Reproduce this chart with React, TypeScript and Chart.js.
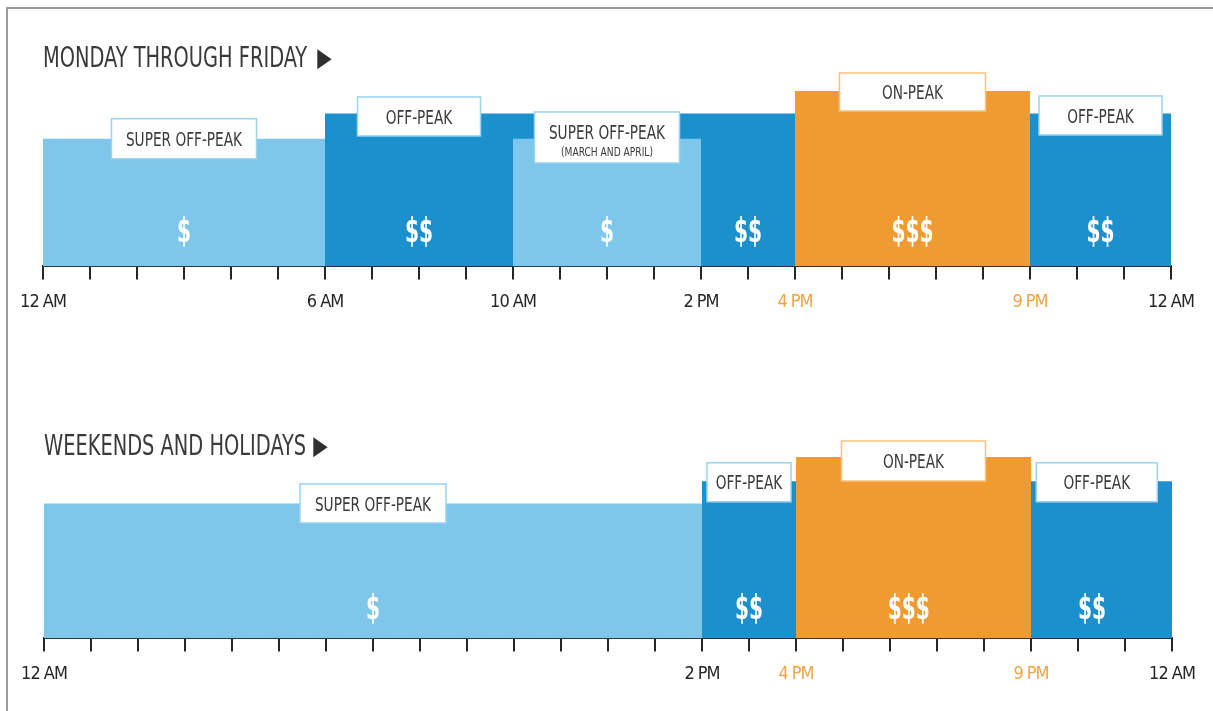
import React, { useEffect, useRef } from 'react';
import { Chart, registerables } from 'chart.js';

Chart.register(...registerables);

// ---------------- data ----------------
const WEEKDAY_TITLE = 'MONDAY THROUGH FRIDAY';
const WEEKDAY_SEG_START = [0, 6, 10, 16, 21];
const WEEKDAY_SEG_END = [6, 16, 14, 21, 24];
const WEEKDAY_SEG_TIER = ['super', 'off', 'super', 'on', 'off'];
const WEEKDAY_SEG_HEIGHT = [0.728, 0.872, 0.728, 1.0, 0.872];
const WEEKDAY_LABEL_TEXT = ['SUPER OFF-PEAK', 'OFF-PEAK', 'SUPER OFF-PEAK', 'ON-PEAK', 'OFF-PEAK'];
const WEEKDAY_LABEL_NOTE = ['', '', '(MARCH AND APRIL)', '', ''];
const WEEKDAY_LABEL_HOUR = [3, 8, 12, 18.5, 22.5];
const WEEKDAY_LABEL_TIER = ['super', 'off', 'super', 'on', 'off'];
const WEEKDAY_LABEL_LEVEL = [0.728, 0.872, 0.872, 1.0, 0.872];
const WEEKDAY_RATE_TEXT = ['$', '$$', '$', '$$', '$$$', '$$'];
const WEEKDAY_RATE_HOUR = [3, 8, 12, 15, 18.5, 22.5];
const WEEKDAY_TICK_HOURS = [0, 6, 10, 14, 16, 21, 24];
const WEEKDAY_TICK_LABELS = ['12 AM', '6 AM', '10 AM', '2 PM', '4 PM', '9 PM', '12 AM'];

const WEEKEND_TITLE = 'WEEKENDS AND HOLIDAYS';
const WEEKEND_SEG_START = [0, 14, 16, 21];
const WEEKEND_SEG_END = [14, 16, 21, 24];
const WEEKEND_SEG_TIER = ['super', 'off', 'on', 'off'];
const WEEKEND_SEG_HEIGHT = [0.744, 0.866, 1.0, 0.866];
const WEEKEND_LABEL_TEXT = ['SUPER OFF-PEAK', 'OFF-PEAK', 'ON-PEAK', 'OFF-PEAK'];
const WEEKEND_LABEL_NOTE = ['', '', '', ''];
const WEEKEND_LABEL_HOUR = [7, 15, 18.5, 22.4];
const WEEKEND_LABEL_TIER = ['super', 'off', 'on', 'off'];
const WEEKEND_LABEL_LEVEL = [0.744, 0.866, 1.0, 0.866];
const WEEKEND_RATE_TEXT = ['$', '$$', '$$$', '$$'];
const WEEKEND_RATE_HOUR = [7, 15, 18.4, 22.3];
const WEEKEND_TICK_HOURS = [0, 14, 16, 21, 24];
const WEEKEND_TICK_LABELS = ['12 AM', '2 PM', '4 PM', '9 PM', '12 AM'];

const PEAK_TICK_HOURS = [16, 21];
const TITLE_ARROW = '\u25B6';

// ---------------- styles ----------------
const FAMILY = '"DejaVu Sans Condensed", "Liberation Sans Narrow", "Liberation Sans", "DejaVu Sans", sans-serif';
const COLORS: Record<string, string> = { super: '#7EC7EA', off: '#1B90CD', on: '#EF9B31' };
const BOX_BORDER: Record<string, string> = { super: '#9AD4F1', off: '#9AD4F1', on: '#F7C27E' };
const TEXT_DARK = '#3a3a3a';
const AXIS_DARK = '#262626';
const TICK_ORANGE = '#F2A444';

type BoxStyle = { w: number; h: number; dy: number };
const WEEKDAY_BOX_STYLE: BoxStyle[] = [
  { w: 145, h: 40, dy: 0 },
  { w: 123, h: 39, dy: 3 },
  { w: 145, h: 51, dy: 24 },
  { w: 146, h: 38, dy: 1 },
  { w: 123, h: 39, dy: 2 },
];
const WEEKEND_BOX_STYLE: BoxStyle[] = [
  { w: 146, h: 39, dy: 0 },
  { w: 84, h: 39, dy: 1 },
  { w: 144, h: 40, dy: 4 },
  { w: 121, h: 39, dy: 1 },
];

type PanelCfg = {
  title: string;
  titleCapCenter: number;
  arrowGap: number;
  starts: number[];
  ends: number[];
  tiers: string[];
  heights: number[];
  labelText: string[];
  labelNote: string[];
  labelHour: number[];
  labelTier: string[];
  labelLevel: number[];
  boxStyle: BoxStyle[];
  rateText: string[];
  rateHour: number[];
  rateLevel: number;
  tickHours: number[];
  tickLabels: string[];
  padding: { left: number; right: number; top: number; bottom: number };
  canvasTop: number;
  canvasHeight: number;
};

function drawText(
  ctx: CanvasRenderingContext2D,
  text: string,
  x: number,
  capCenter: number,
  size: number,
  weight: string,
  color: string,
  align: CanvasTextAlign,
  sx: number
): number {
  ctx.save();
  (ctx as any).letterSpacing = '0px';
  ctx.font = `${weight} ${size}px ${FAMILY}`;
  ctx.fillStyle = color;
  ctx.textAlign = align;
  ctx.textBaseline = 'alphabetic';
  const w = ctx.measureText(text).width * sx;
  ctx.translate(x, capCenter + (size * 0.729) / 2);
  ctx.scale(sx, 1);
  ctx.fillText(text, 0, 0);
  ctx.restore();
  return w;
}

function makePlugin(cfg: PanelCfg) {
  return {
    id: 'touOverlay',
    beforeDraw(chart: any) {
      (chart.ctx as any).letterSpacing = '-1px';
    },
    afterDatasetsDraw(chart: any) {
      const ctx: CanvasRenderingContext2D = chart.ctx;
      const area = chart.chartArea;
      const xs = chart.scales.x;
      const ys = chart.scales.y;
      // title + arrow
      const tw = drawText(ctx, cfg.title, area.left, cfg.titleCapCenter, 28, 'normal', TEXT_DARK, 'left', 0.77);
      drawText(ctx, TITLE_ARROW, area.left + tw + cfg.arrowGap, cfg.titleCapCenter, 26, 'normal', '#2e2e2e', 'left', 0.8);
      // rate symbols
      cfg.rateText.forEach((t, i) => {
        drawText(ctx, t, xs.getPixelForValue(cfg.rateHour[i]), ys.getPixelForValue(cfg.rateLevel), 33, 'bold', '#ffffff', 'center', 0.68);
      });
      // label boxes
      cfg.labelText.forEach((t, i) => {
        const st = cfg.boxStyle[i];
        const cx = xs.getPixelForValue(cfg.labelHour[i]);
        const cy = ys.getPixelForValue(cfg.labelLevel[i]) + st.dy;
        const x0 = cx - st.w / 2;
        const y0 = cy - st.h / 2;
        ctx.save();
        ctx.fillStyle = '#ffffff';
        ctx.fillRect(x0, y0, st.w, st.h);
        ctx.strokeStyle = BOX_BORDER[cfg.labelTier[i]];
        ctx.lineWidth = 1.5;
        ctx.strokeRect(x0, y0, st.w, st.h);
        ctx.restore();
        const note = cfg.labelNote[i];
        if (note) {
          drawText(ctx, t, cx, cy - 5.5, 19.5, 'normal', TEXT_DARK, 'center', 0.78);
          drawText(ctx, note, cx, cy + 14, 13, 'normal', TEXT_DARK, 'center', 0.78);
        } else {
          drawText(ctx, t, cx, cy, 19.5, 'normal', TEXT_DARK, 'center', 0.78);
        }
      });
    },
  };
}

function Panel({ cfg }: { cfg: PanelCfg }) {
  const ref = useRef<HTMLCanvasElement | null>(null);
  useEffect(() => {
    if (!ref.current) return;
    const datasets = cfg.starts.map((s, i) => ({
      label: cfg.tiers[i],
      data: [
        { x: s, y: cfg.heights[i] },
        { x: cfg.ends[i], y: cfg.heights[i] },
      ],
      fill: 'origin',
      backgroundColor: COLORS[cfg.tiers[i]],
      borderColor: 'rgba(0,0,0,0)',
      borderWidth: 0,
      pointRadius: 0,
      pointHoverRadius: 0,
      tension: 0,
      order: -i,
    }));
    const chart = new Chart(ref.current, {
      type: 'line',
      data: { datasets } as any,
      options: {
        responsive: false,
        animation: false,
        events: [],
        layout: { padding: cfg.padding },
        plugins: {
          legend: { display: false },
          tooltip: { enabled: false },
          title: { display: false },
        },
        scales: {
          x: {
            type: 'linear',
            min: 0,
            max: 24,
            ticks: {
              stepSize: 1,
              autoSkip: false,
              maxTicksLimit: 30,
              maxRotation: 0,
              minRotation: 0,
              padding: 12,
              font: { family: FAMILY, size: 18 },
              color: (c: any) => (PEAK_TICK_HOURS.includes(c.tick?.value) ? TICK_ORANGE : AXIS_DARK),
              callback: (v: any) => {
                const idx = cfg.tickHours.indexOf(Number(v));
                return idx >= 0 ? cfg.tickLabels[idx] : '';
              },
            },
            grid: {
              drawOnChartArea: false,
              drawTicks: true,
              tickLength: 13,
              color: AXIS_DARK,
              lineWidth: 2,
            },
            border: { display: true, color: AXIS_DARK, width: 2 },
          },
          y: { display: false, min: 0, max: 1 },
        },
      } as any,
      plugins: [makePlugin(cfg)],
    });
    return () => chart.destroy();
  }, [cfg]);
  return (
    <canvas
      ref={ref}
      width={1213}
      height={cfg.canvasHeight}
      style={{ position: 'absolute', left: 0, top: cfg.canvasTop, width: 1213, height: cfg.canvasHeight, display: 'block' }}
    />
  );
}

const WEEKDAY_CFG: PanelCfg = {
  title: WEEKDAY_TITLE,
  titleCapCenter: 56.7,
  arrowGap: 10,
  starts: WEEKDAY_SEG_START,
  ends: WEEKDAY_SEG_END,
  tiers: WEEKDAY_SEG_TIER,
  heights: WEEKDAY_SEG_HEIGHT,
  labelText: WEEKDAY_LABEL_TEXT,
  labelNote: WEEKDAY_LABEL_NOTE,
  labelHour: WEEKDAY_LABEL_HOUR,
  labelTier: WEEKDAY_LABEL_TIER,
  labelLevel: WEEKDAY_LABEL_LEVEL,
  boxStyle: WEEKDAY_BOX_STYLE,
  rateText: WEEKDAY_RATE_TEXT,
  rateHour: WEEKDAY_RATE_HOUR,
  rateLevel: 0.209,
  tickHours: WEEKDAY_TICK_HOURS,
  tickLabels: WEEKDAY_TICK_LABELS,
  padding: { left: 43, right: 42, top: 91, bottom: 8 },
  canvasTop: 0,
  canvasHeight: 333,
};

const WEEKEND_CFG: PanelCfg = {
  title: WEEKEND_TITLE,
  titleCapCenter: 65,
  arrowGap: 7,
  starts: WEEKEND_SEG_START,
  ends: WEEKEND_SEG_END,
  tiers: WEEKEND_SEG_TIER,
  heights: WEEKEND_SEG_HEIGHT,
  labelText: WEEKEND_LABEL_TEXT,
  labelNote: WEEKEND_LABEL_NOTE,
  labelHour: WEEKEND_LABEL_HOUR,
  labelTier: WEEKEND_LABEL_TIER,
  labelLevel: WEEKEND_LABEL_LEVEL,
  boxStyle: WEEKEND_BOX_STYLE,
  rateText: WEEKEND_RATE_TEXT,
  rateHour: WEEKEND_RATE_HOUR,
  rateLevel: 0.172,
  tickHours: WEEKEND_TICK_HOURS,
  tickLabels: WEEKEND_TICK_LABELS,
  padding: { left: 44, right: 41, top: 77, bottom: 14 },
  canvasTop: 380,
  canvasHeight: 331,
};

export default function App() {
  return (
    <div
      style={{
        position: 'fixed',
        left: 0,
        top: 0,
        width: 1213,
        height: 711,
        background: '#ffffff',
        overflow: 'hidden',
      }}
    >
      <div
        style={{
          position: 'absolute',
          left: 6,
          top: 7,
          right: 0,
          bottom: 0,
          borderLeft: '2px solid #9a9a9a',
          borderTop: '2px solid #9a9a9a',
        }}
      />
      <Panel cfg={WEEKDAY_CFG} />
      <Panel cfg={WEEKEND_CFG} />
    </div>
  );
}
